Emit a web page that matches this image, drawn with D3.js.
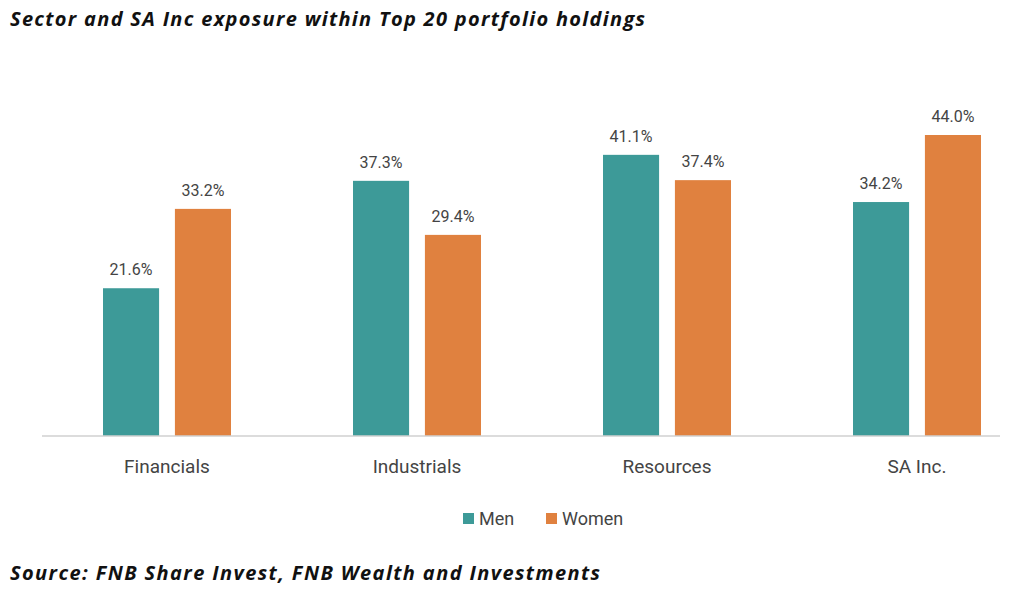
<!DOCTYPE html>
<html><head><meta charset="utf-8">
<script src="https://cdn.jsdelivr.net/npm/d3@7"></script>
<style>body{margin:0;background:#fff}</style>
</head><body><div id="chart"></div>
<script>
const categories = ['Financials', 'Industrials', 'Resources', 'SA Inc.'];
const seriesNames = ['Men', 'Women'];
const men = [21.6, 37.3, 41.1, 34.2];
const women = [33.2, 29.4, 37.4, 44.0];
const colors = {Men: '#3d9a98', Women: '#e0813f'};

const W = 1024, H = 597;
const svg = d3.select('#chart').append('svg').attr('width', W).attr('height', H);

// Titolo
svg.append('text').attr('x', 10).attr('y', 26)
    .attr('font-family', 'Open Sans, sans-serif').attr('font-size', '20px')
    .attr('font-weight', 'bold').attr('font-style', 'italic').attr('fill', '#111')
    .attr('textLength', 635).attr('lengthAdjust', 'spacing')
    .text('Sector and SA Inc exposure within Top 20 portfolio holdings');

const x0 = d3.scaleBand().domain(categories).range([42, 1042]);
const x1 = d3.scaleBand().domain(seriesNames).range([61, 189]).paddingInner(0.22);
const y = d3.scaleLinear().domain([0, 44]).range([436, 135]);

const rows = [];
categories.forEach((c, i) => {
    rows.push({cat: c, s: 'Men', v: men[i]});
    rows.push({cat: c, s: 'Women', v: women[i]});
});

svg.selectAll('rect.bar').data(rows).enter().append('rect')
    .attr('x', d => x0(d.cat) + x1(d.s))
    .attr('y', d => y(d.v))
    .attr('width', x1.bandwidth())
    .attr('height', d => y(0) - y(d.v))
    .attr('fill', d => colors[d.s]);

svg.selectAll('text.val').data(rows).enter().append('text')
    .attr('x', d => x0(d.cat) + x1(d.s) + x1.bandwidth() / 2)
    .attr('y', d => y(d.v) - 13)
    .attr('text-anchor', 'middle')
    .attr('font-family', 'Roboto, sans-serif').attr('font-size', '16px').attr('fill', '#444')
    .text(d => d.v.toFixed(1) + '%');

// Asse
svg.append('line').attr('x1', 42).attr('x2', 1000).attr('y1', y(0)).attr('y2', y(0))
    .attr('stroke', '#d0d0d0').attr('stroke-width', 1.5);

svg.selectAll('text.cat').data(categories).enter().append('text')
    .attr('x', d => x0(d) + x0.bandwidth() / 2)
    .attr('y', 473)
    .attr('text-anchor', 'middle')
    .attr('font-family', 'Roboto, sans-serif').attr('font-size', '19px').attr('fill', '#444')
    .text(d => d);

// Legenda
const legX = [463, 546];
seriesNames.forEach((s, i) => {
    svg.append('rect').attr('x', legX[i]).attr('y', 513).attr('width', 11).attr('height', 11)
        .attr('fill', colors[s]);
    svg.append('text').attr('x', legX[i] + 16).attr('y', 525)
        .attr('font-family', 'Roboto, sans-serif').attr('font-size', '18px').attr('fill', '#444')
        .text(s);
});

svg.append('text').attr('x', 10).attr('y', 580)
    .attr('font-family', 'Open Sans, sans-serif').attr('font-size', '20px')
    .attr('font-weight', 'bold').attr('font-style', 'italic').attr('fill', '#111')
    .attr('textLength', 590).attr('lengthAdjust', 'spacing')
    .text('Source: FNB Share Invest, FNB Wealth and Investments');
</script></body></html>
